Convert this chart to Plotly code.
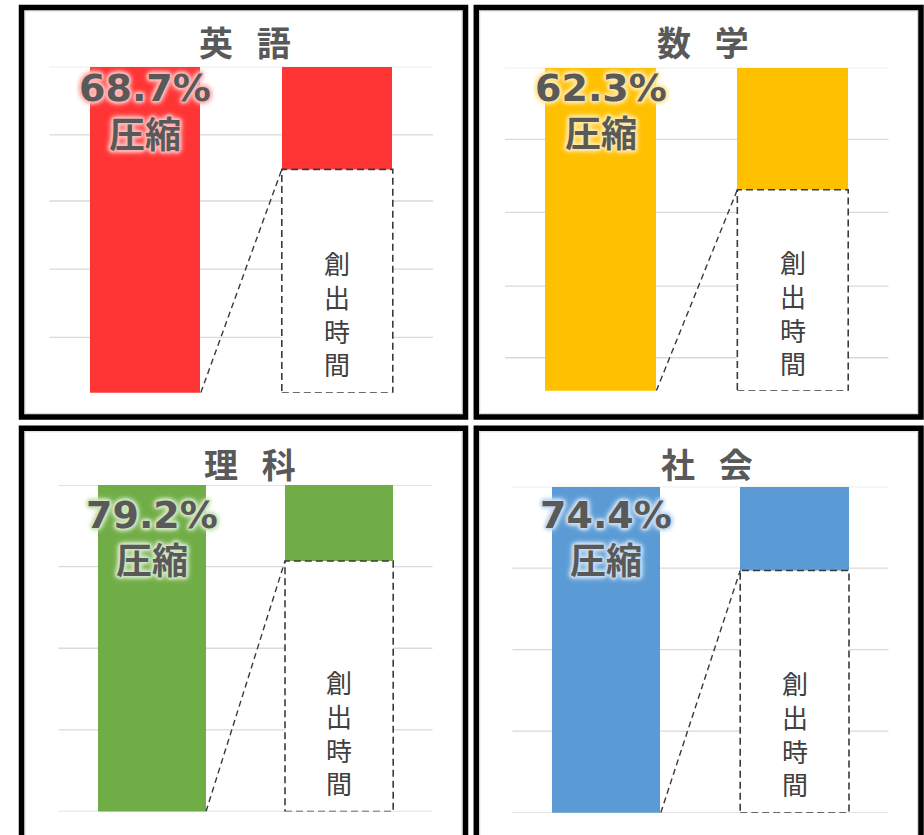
import plotly.graph_objects as go

# ---------------- data ----------------
subjects = ["英\u00a0\u00a0語", "数\u00a0\u00a0学", "理\u00a0\u00a0科", "社\u00a0\u00a0会"]
compression_labels = ["68.7%", "62.3%", "79.2%", "74.4%"]
compression_word = "圧縮"
created_word = "創出時間"
total_time = [100, 100, 100, 100]            # full bar (before)
created_time = [68.5, 62.2, 76.7, 74.3]      # dashed part of the after bar
remaining_time = [t - c for t, c in zip(total_time, created_time)]
bar_colors = ["#FF3535", "#FFC000", "#70AD47", "#5B9BD5"]
glow_colors = ["#ffb8b8", "#ffe8a0", "#cfe6bf", "#c6dcf2"]
grid_ticks = [
    [17.0, 37.9, 58.8, 79.1, 100],
    [10.2, 32.4, 55.2, 77.8, 100],
    [0, 25, 50, 75, 100],
    [0, 25, 50, 75, 100],
]

# ---------------- layout geometry (pixels) ----------------
W, H = 924, 835
def px(x):
    return x / W
def py(y):
    return 1 - y / H

# plot areas: (left, right, top, bottom) in px
areas = [
    (49.3, 433.3, 66.7, 392.7),
    (505.0, 888.7, 67.7, 390.7),
    (58.3, 432.7, 485.0, 811.5),
    (512.3, 888.7, 486.7, 812.7),
]
frames = [
    (21.5, 465.5, 7.5, 417.0),
    (476.3, 921.0, 7.5, 417.0),
    (21.5, 465.5, 428.3, 860.0),
    (476.3, 921.0, 428.3, 860.0),
]
title_pos = [(245, 44), (703, 44), (250, 466), (706.7, 466)]
pct_y = [93.5, 93.7, 90.8, 91.3]
word_y = [80.1, 80.5, 77.5, 78.0]
created_text_y = 24.4
BAR_W = 0.578

fig = go.Figure()
shapes = []
annotations = []

for i in range(4):
    sfx = "" if i == 0 else str(i + 1)
    xa, ya = "x" + sfx, "y" + sfx
    # full bar (before)
    fig.add_trace(go.Bar(
        x=[0], y=[total_time[i]], base=[0], width=BAR_W,
        marker=dict(color=bar_colors[i], line=dict(width=0)),
        xaxis=xa, yaxis=ya, showlegend=False, hoverinfo="skip"))
    # remaining (after) bar on top of created time
    fig.add_trace(go.Bar(
        x=[1], y=[remaining_time[i]], base=[created_time[i]], width=BAR_W,
        marker=dict(color=bar_colors[i], line=dict(width=0)),
        xaxis=xa, yaxis=ya, showlegend=False, hoverinfo="skip"))

    l, r, t, b = areas[i]
    fig.update_layout({
        ("xaxis" + sfx): dict(domain=[px(l), px(r)], range=[-0.5, 1.5], anchor=ya,
                              showgrid=False, zeroline=False, showticklabels=False,
                              showline=False, fixedrange=True),
        ("yaxis" + sfx): dict(domain=[py(b), py(t)], range=[0, 100], anchor=xa,
                              showticklabels=False, showgrid=False,
                              zeroline=False, showline=False, ticks="", fixedrange=True),
    })

    # gridlines (drawn below the bars)
    for v in grid_ticks[i]:
        shapes.append(dict(type="line", xref=xa, yref=ya, x0=-0.5, x1=1.5, y0=v, y1=v,
                           line=dict(color="#d9d9d9", width=1.3), layer="below"))

    # dashed box for created time
    shapes.append(dict(type="rect", xref=xa, yref=ya,
                       x0=1 - BAR_W / 2, x1=1 + BAR_W / 2, y0=0, y1=created_time[i],
                       line=dict(color="#3a3a3a", width=1.6, dash="7px,4px"),
                       fillcolor="white", layer="above"))
    # connector line
    shapes.append(dict(type="line", xref=xa, yref=ya,
                       x0=BAR_W / 2, y0=0, x1=1 - BAR_W / 2, y1=created_time[i],
                       line=dict(color="#3a3a3a", width=1.4, dash="6px,4px"),
                       layer="above"))

    # frame
    fl, fr, ft, fb = frames[i]
    shapes.append(dict(type="rect", xref="paper", yref="paper",
                       x0=px(fl + 3.5), x1=px(fr - 3.5), y0=py(fb - 3.5), y1=py(ft + 3.5),
                       line=dict(color="#d9d9d9", width=1), fillcolor="rgba(0,0,0,0)"))
    shapes.append(dict(type="rect", xref="paper", yref="paper",
                       x0=px(fl), x1=px(fr), y0=py(fb), y1=py(ft),
                       line=dict(color="#000000", width=5.5), fillcolor="rgba(0,0,0,0)"))

    # title
    tx, ty = title_pos[i]
    annotations.append(dict(xref="paper", yref="paper", x=px(tx), y=py(ty),
                            text="<b>" + subjects[i] + "</b>", showarrow=False,
                            xanchor="center", yanchor="middle",
                            font=dict(family="DejaVu Sans, Noto Sans CJK JP", size=34,
                                      color="#595959")))
    g = glow_colors[i]
    shadow = ", ".join(["0 0 2px " + g] * 5 + ["0 0 4px " + g] * 4 + ["0 0 7px " + g] * 2)
    annotations.append(dict(xref=xa, yref=ya, x=0, y=pct_y[i],
                            text="<b>" + compression_labels[i] + "</b>", showarrow=False,
                            xanchor="center", yanchor="middle",
                            font=dict(family="DejaVu Sans, Noto Sans CJK JP", size=38,
                                      color="#595959", shadow=shadow)))
    annotations.append(dict(xref=xa, yref=ya, x=0, y=word_y[i],
                            text="<b>" + compression_word + "</b>", showarrow=False,
                            xanchor="center", yanchor="middle",
                            font=dict(family="Noto Sans CJK JP", size=36,
                                      color="#595959", shadow=shadow)))
    annotations.append(dict(xref=xa, yref=ya, x=1, y=created_text_y,
                            text="<br>".join(list(created_word)), showarrow=False,
                            xanchor="center", yanchor="middle",
                            font=dict(family="Noto Sans CJK JP", size=26, color="#404040")))

fig.update_layout(
    width=W, height=H,
    margin=dict(l=0, r=0, t=0, b=0),
    paper_bgcolor="white", plot_bgcolor="white",
    barmode="overlay", bargap=0,
    shapes=shapes, annotations=annotations,
    showlegend=False,
)

fig.write_html("out.html", config={"displayModeBar": False},
               post_script="document.body.style.margin='0px';document.body.style.padding='0px';")
